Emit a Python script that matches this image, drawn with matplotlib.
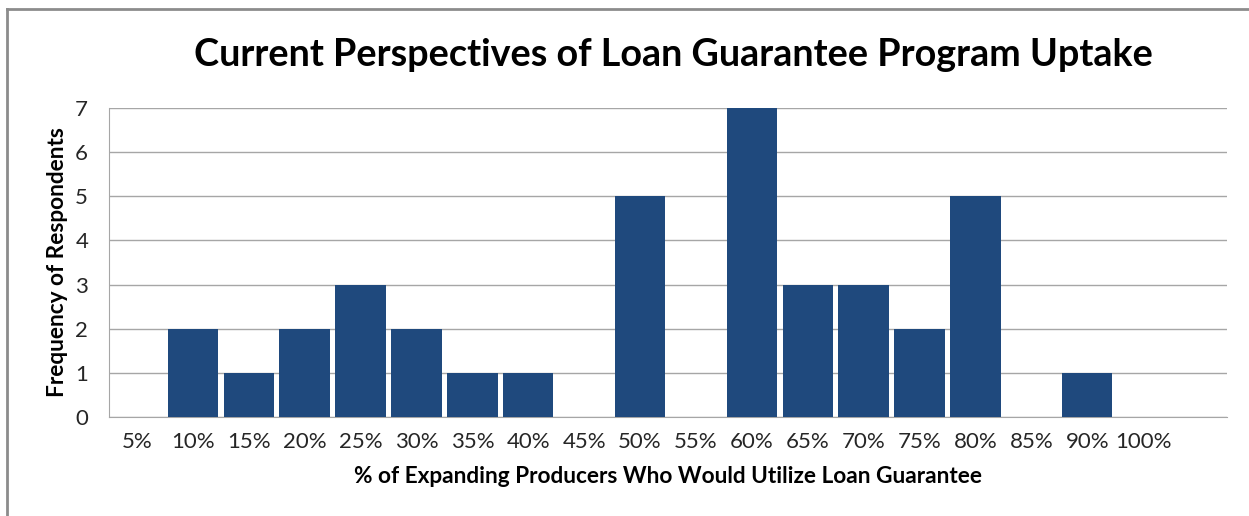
import matplotlib
matplotlib.use("Agg")
import matplotlib.pyplot as plt
from matplotlib.lines import Line2D

plt.rcParams['font.family'] = ['Lato', 'DejaVu Sans']

# histogram bins as shown on the x axis (last bin has no label)
bins = ["5%", "10%", "15%", "20%", "25%", "30%", "35%", "40%", "45%", "50%",
        "55%", "60%", "65%", "70%", "75%", "80%", "85%", "90%", "100%", ""]
respondents = [0, 2, 1, 2, 3, 2, 1, 1, 0, 5,
               0, 7, 3, 3, 2, 5, 0, 1, 0, 0]

title = "Current Perspectives of Loan Guarantee Program Uptake"
x_title = "% of Expanding Producers Who Would Utilize Loan Guarantee"
y_title = "Frequency of Respondents"

bar_color = "#1F497D"
grid_color = "#A6A6A6"
text_color = "#262626"

fig = plt.figure(figsize=(12.49, 5.16), dpi=100)
ax = fig.add_axes([109 / 1249, 99 / 516, 1118 / 1249, 309 / 516])

xs = list(range(len(bins)))
ax.bar(xs, respondents, width=0.9, color=bar_color, zorder=3)

ax.set_xlim(-0.5, len(bins) - 0.5)
ax.set_ylim(0, 7)
ax.set_yticks(range(0, 8))
ax.set_xticks(xs)
ax.set_xticklabels(bins)
ax.tick_params(axis="both", length=0, labelsize=16, colors=text_color)
ax.tick_params(axis="x", pad=11)
ax.tick_params(axis="y", pad=15)

ax.yaxis.grid(True, color=grid_color, linewidth=1)
ax.set_axisbelow(True)
for side in ["top", "right"]:
    ax.spines[side].set_visible(False)
ax.spines["left"].set_color(grid_color)
ax.spines["bottom"].set_color(grid_color)

ax.set_xlabel(x_title, fontsize=16.3, fontweight="bold", labelpad=10)
ax.set_ylabel(y_title, fontsize=16.3, fontweight="bold", labelpad=5)
fig.text(0.539, 0.893, title, fontsize=27.2, fontweight="bold",
         ha="center", va="center")

# chart frame (only left and top edges visible in the crop)
fig.add_artist(Line2D([7 / 1249, 7 / 1249], [0, 1 - 9 / 516],
                      transform=fig.transFigure, color="#8C8C8C", linewidth=2))
fig.add_artist(Line2D([7 / 1249, 1], [1 - 9 / 516, 1 - 9 / 516],
                      transform=fig.transFigure, color="#8C8C8C", linewidth=2))

fig.savefig("out.png", dpi=100)
